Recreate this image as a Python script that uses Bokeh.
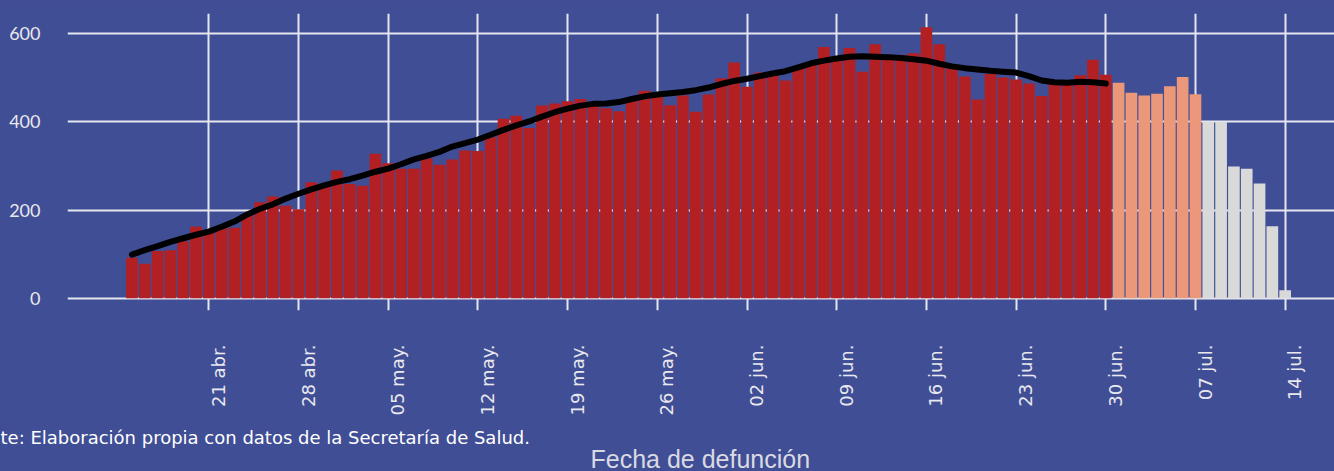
import math
import pandas as pd
from bokeh.plotting import figure
from bokeh.models import Range1d, FixedTicker, Title
from bokeh.embed import file_html
from bokeh.resources import INLINE

# ---------------- data ----------------
start_date = "2020-04-15"

# daily deaths by date of death, 15 abr - 30 jun (consolidated)
deaths_consolidated = [
    92, 78, 107, 109, 129, 162, 148, 159, 160, 187, 218, 231, 210, 202, 263, 256,
    290, 259, 255, 328, 306, 294, 294, 317, 303, 315, 335, 334, 365, 407, 414, 386,
    437, 442, 447, 452, 440, 431, 424, 455, 471, 458, 438, 460, 423, 462, 499,
    535, 480, 512, 505, 494, 520, 536, 570, 543, 568, 514, 576, 550, 552, 556, 615,
    576, 521, 503, 451, 509, 501, 496, 487, 459, 486, 492, 506, 541, 507,
]
# 01 jul - 07 jul
deaths_recent = [489, 466, 460, 464, 481, 502, 463]
# 08 jul - 14 jul
deaths_incomplete = [400, 400, 299, 294, 260, 163, 18]

# moving average (black line), 15 abr - 30 jun
moving_avg = [
    99, 109, 118, 128, 136, 144, 151, 162, 174, 190, 203, 213, 226, 237, 247, 256,
    264, 270, 278, 287, 294, 304, 315, 323, 332, 344, 352, 360, 371, 382, 392, 401,
    412, 422, 430, 437, 441, 442, 445, 452, 458, 462, 465, 468, 472, 478, 486,
    493, 498, 504, 510, 515, 524, 533, 539, 544, 548, 549, 548, 547, 545, 542, 539,
    532, 526, 522, 519, 516, 514, 512, 504, 494, 490, 489, 491, 490, 487,
]

tick_dates = ["2020-04-21", "2020-04-28", "2020-05-05", "2020-05-12", "2020-05-19",
              "2020-05-26", "2020-06-02", "2020-06-09", "2020-06-16", "2020-06-23",
              "2020-06-30", "2020-07-07", "2020-07-14"]
tick_labels = ["21 abr.", "28 abr.", "05 may.", "12 may.", "19 may.", "26 may.",
               "02 jun.", "09 jun.", "16 jun.", "23 jun.", "30 jun.", "07 jul.", "14 jul."]
y_ticks = [0, 200, 400, 600]

source_note = "te: Elaboración propia con datos de la  Secretaría de Salud."
x_title = "Fecha de defunción"

# ---------------- helpers ----------------
t0 = pd.Timestamp(start_date)
def day_index(d):
    return (pd.Timestamp(d) - t0).days

n1 = len(deaths_consolidated)
n2 = len(deaths_recent)
n3 = len(deaths_incomplete)
x1 = list(range(0, n1))
x2 = list(range(n1, n1 + n2))
x3 = list(range(n1 + n2, n1 + n2 + n3))
tick_idx = [day_index(d) for d in tick_dates]

BG = "#404E95"
GRID = "#E4E6F0"
TXT = "#E8E8EE"

p = figure(width=1334, height=471,
           x_range=Range1d(-5.03, 93.85), y_range=Range1d(-27.9, 646),
           output_backend="svg", toolbar_location=None,
           min_border_left=67, min_border_right=0, min_border_top=13, min_border_bottom=161)
p.background_fill_color = BG
p.border_fill_color = BG
p.outline_line_color = None

# grids
p.ygrid.ticker = FixedTicker(ticks=y_ticks)
p.ygrid.grid_line_color = GRID
p.ygrid.grid_line_width = 2
p.xgrid.ticker = FixedTicker(ticks=tick_idx)
p.xgrid.grid_line_color = GRID
p.xgrid.grid_line_width = 2

# bars
bw = 0.91
p.vbar(x=x1, top=deaths_consolidated, bottom=0, width=bw, fill_color="#B22024", line_color=None)
p.vbar(x=x2, top=deaths_recent, bottom=0, width=bw, fill_color="#EA977A", line_color=None)
p.vbar(x=x3, top=deaths_incomplete, bottom=0, width=bw, fill_color="#D9D9D9", line_color=None)

# moving average
p.line(x=x1, y=moving_avg, line_color="black", line_width=6, line_cap="round", line_join="round")

# y axis
yax = p.yaxis[0]
yax.ticker = FixedTicker(ticks=y_ticks)
yax.axis_line_color = None
yax.major_tick_line_color = None
yax.minor_tick_line_color = None
yax.major_label_standoff = 21
yax.major_label_text_color = TXT
yax.major_label_text_font = "Lato"
yax.major_label_text_font_size = "18px"

# x axis (labels sit just to the right of each weekly grid line)
shift = 0.75
xax = p.xaxis[0]
xax.ticker = FixedTicker(ticks=[t + shift for t in tick_idx])
xax.major_label_overrides = {t + shift: lab for t, lab in zip(tick_idx, tick_labels)}
xax.major_label_orientation = math.pi / 2
xax.axis_line_color = None
xax.major_tick_line_color = None
xax.minor_tick_line_color = None
xax.major_label_standoff = 28
xax.major_label_text_color = TXT
xax.major_label_text_font = "DejaVu Sans"
xax.major_label_text_font_size = "18px"

# source note and axis title below the axis
t_src = Title(text=source_note, align="left", offset=-67, standoff=13,
              text_font="DejaVu Sans", text_font_size="18px", text_font_style="normal",
              text_color="white")
p.add_layout(t_src, "below")
t_x = Title(text=x_title, align="left", offset=523, standoff=-24,
            text_font="Liberation Sans", text_font_size="25px", text_font_style="normal",
            text_color="#DADAE2")
p.add_layout(t_x, "below")

html = file_html(p, INLINE).replace("<body>", '<body style="background-color:#404E95;">')
open("out.html", "w").write(html)
